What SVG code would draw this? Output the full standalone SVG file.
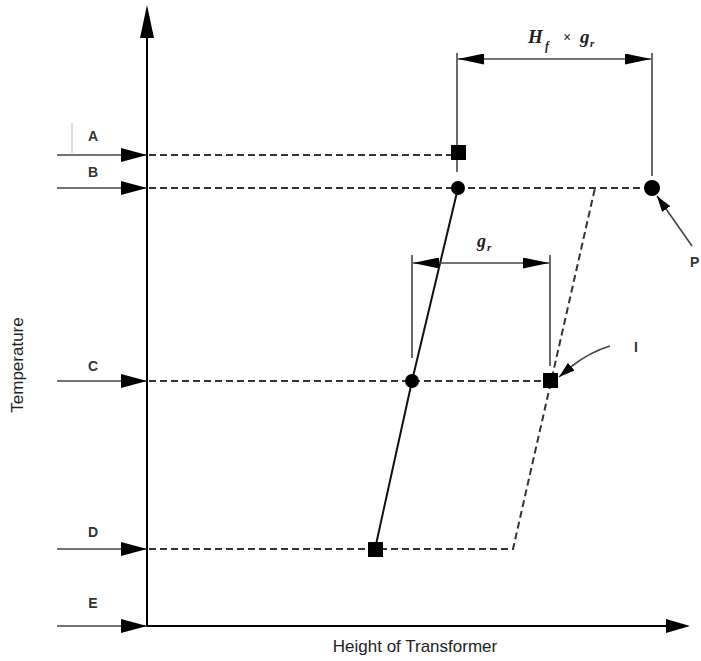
<svg xmlns="http://www.w3.org/2000/svg" width="701" height="661" viewBox="0 0 701 661">
<defs>
<style>
.ax{stroke:#000;stroke-width:2;fill:none}
.dash{stroke:#333;stroke-width:2;stroke-dasharray:7,4;fill:none}
.ln{stroke:#111;stroke-width:2;fill:none}
.thin{stroke:#444;stroke-width:1.6;fill:none}
.lbl{font-family:"Liberation Sans",Arial,sans-serif;font-size:14px;fill:#333;font-weight:bold}
.big{font-family:"Liberation Sans",Arial,sans-serif;font-size:17px;fill:#222}
.it{font-family:"Liberation Serif","Times New Roman",serif;font-style:italic;font-weight:bold;fill:#222}
</style>
<marker id="ah" viewBox="0 0 26 14" refX="26" refY="7" markerWidth="26" markerHeight="14" markerUnits="userSpaceOnUse" orient="auto">
<path d="M0,0 L26,7 L0,14 Z" fill="#000"/>
</marker>
<marker id="ahs" viewBox="0 0 26 11" refX="26" refY="5.5" markerWidth="26" markerHeight="11" markerUnits="userSpaceOnUse" orient="auto-start-reverse">
<path d="M0,0 L26,5.5 L0,11 Z" fill="#000"/>
</marker>
<marker id="ap" viewBox="0 0 16 10" refX="16" refY="5" markerWidth="16" markerHeight="10" markerUnits="userSpaceOnUse" orient="auto">
<path d="M0,0 L16,5 L0,10 Z" fill="#000"/>
</marker>
</defs>
<rect width="701" height="661" fill="#fff"/>

<g id="axes">
<line class="ax" x1="147" y1="627" x2="147" y2="36"/>
<path d="M147,5 L140,38 L154,38 Z" fill="#000"/>
<line class="ax" x1="146" y1="626" x2="668" y2="626"/>
<path d="M690,626 L666,619 L666,633 Z" fill="#000"/>
<text class="big" transform="translate(23,365) rotate(-90)" text-anchor="middle">Temperature</text>
<text class="big" x="415" y="652" text-anchor="middle">Height of Transformer</text>
</g>

<g id="inputs">
<line x1="72" y1="123" x2="72" y2="153" stroke="#bbb" stroke-width="1"/>
<line class="thin" x1="57" y1="155" x2="147" y2="155" marker-end="url(#ah)"/>
<line class="thin" x1="57" y1="188" x2="147" y2="188" marker-end="url(#ah)"/>
<line class="thin" x1="57" y1="381" x2="147" y2="381" marker-end="url(#ah)"/>
<line class="thin" x1="57" y1="549" x2="147" y2="549" marker-end="url(#ah)"/>
<line class="thin" x1="57" y1="626" x2="147" y2="626" marker-end="url(#ah)"/>
<text class="lbl" x="93" y="141" text-anchor="middle">A</text>
<text class="lbl" x="93" y="177" text-anchor="middle">B</text>
<text class="lbl" x="93" y="371" text-anchor="middle">C</text>
<text class="lbl" x="93" y="537" text-anchor="middle">D</text>
<text class="lbl" x="93" y="608" text-anchor="middle">E</text>
</g>

<g id="connectors">
<line class="dash" x1="149" y1="155" x2="452" y2="155"/>
<line class="dash" x1="149" y1="188" x2="646" y2="188"/>
<line class="dash" x1="149" y1="381" x2="544" y2="381"/>
<path class="dash" d="M149,549 L513,549 L595,188"/>
<polyline class="ln" points="375,549 412,381 458,188"/>
<line class="thin" x1="457" y1="53" x2="457" y2="172"/>
<line class="thin" x1="652" y1="53" x2="652" y2="176"/>
<line class="thin" x1="458" y1="59" x2="651" y2="59" marker-start="url(#ahs)" marker-end="url(#ahs)"/>
<line class="thin" x1="412" y1="255" x2="412" y2="358"/>
<line class="thin" x1="550" y1="255" x2="550" y2="366"/>
<line class="thin" x1="413" y1="263" x2="549" y2="263" marker-start="url(#ahs)" marker-end="url(#ahs)"/>
<path class="thin" d="M610,346 Q590,352 572,366 L559,377" marker-end="url(#ap)"/>
<line class="thin" x1="692" y1="246" x2="657" y2="196" marker-end="url(#ap)"/>
</g>

<g id="points">
<rect x="451" y="145" width="15" height="15" fill="#000"/>
<circle cx="458" cy="188" r="7" fill="#000"/>
<circle cx="412" cy="381" r="7" fill="#000"/>
<rect x="543" y="373" width="15" height="15" fill="#000"/>
<rect x="368" y="542" width="15" height="15" fill="#000"/>
<circle cx="652" cy="188" r="8" fill="#000"/>
</g>

<g id="labels">
<text class="it" x="528" y="43" font-size="19">H</text>
<text class="it" x="545" y="50" font-size="12">f</text>
<text class="it" x="563" y="42" font-size="14">×</text>
<text class="it" x="580" y="43" font-size="19">g</text>
<text class="it" x="590" y="47" font-size="11">r</text>
<text class="it" x="477" y="247" font-size="18">g</text>
<text class="it" x="487" y="251" font-size="11">r</text>
<text class="lbl" x="634" y="352">I</text>
<text class="lbl" x="690" y="267">P</text>
</g>
</svg>
